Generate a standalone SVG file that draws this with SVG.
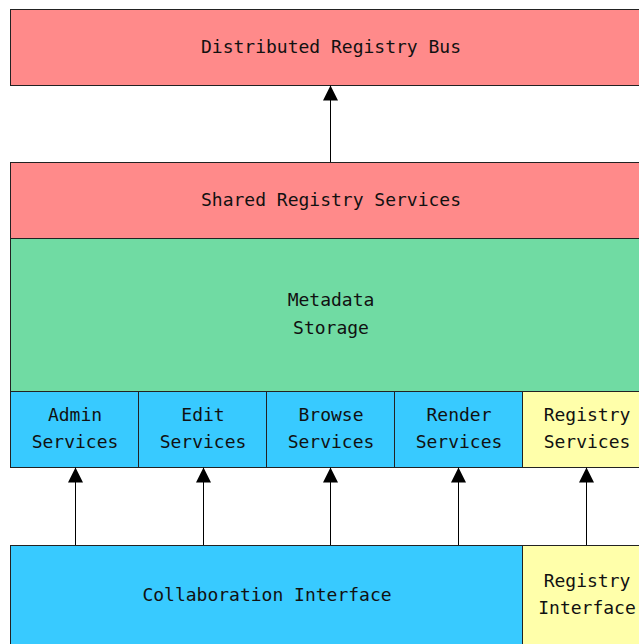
<svg xmlns="http://www.w3.org/2000/svg" width="639" height="644" viewBox="0 0 639 644">
<style>
rect{stroke:#222;stroke-width:1}
.red{fill:#FF8A8A}.green{fill:#70DBA3}.blue{fill:#38CAFF}.yellow{fill:#FFFFAA}
text{font-family:"DejaVu Sans Mono","Liberation Mono",monospace;font-size:18px;fill:#111;text-anchor:middle}
.conn line{stroke:#000;stroke-width:1;marker-end:url(#ah)}
</style>
<defs>
<marker id="ah" markerUnits="userSpaceOnUse" markerWidth="15" markerHeight="15" viewBox="0 0 15 15" refX="15" refY="7.5" orient="auto">
<path d="M0,0 L15,7.5 L0,15 z" fill="#000"/>
</marker>
</defs>
<rect width="639" height="644" fill="#fff" style="stroke:none"/>
<g id="bus"><rect class="red" x="10.5" y="9.5" width="640" height="76"/><text x="331" y="53">Distributed Registry Bus</text></g>
<g id="shared"><rect class="red" x="10.5" y="162.5" width="640" height="76"/><text x="331" y="206">Shared Registry Services</text></g>
<g id="metadata"><rect class="green" x="10.5" y="238.5" width="640" height="153"/><text x="331" y="306">Metadata</text><text x="331" y="334">Storage</text></g>
<g id="admin"><rect class="blue" x="10.5" y="391.5" width="128" height="76"/><text x="75" y="421">Admin</text><text x="75" y="448">Services</text></g>
<g id="edit"><rect class="blue" x="138.5" y="391.5" width="128" height="76"/><text x="203" y="421">Edit</text><text x="203" y="448">Services</text></g>
<g id="browse"><rect class="blue" x="266.5" y="391.5" width="128" height="76"/><text x="331" y="421">Browse</text><text x="331" y="448">Services</text></g>
<g id="render"><rect class="blue" x="394.5" y="391.5" width="128" height="76"/><text x="459" y="421">Render</text><text x="459" y="448">Services</text></g>
<g id="registry-services"><rect class="yellow" x="522.5" y="391.5" width="128" height="76"/><text x="587" y="421">Registry</text><text x="587" y="448">Services</text></g>
<g id="collab"><rect class="blue" x="10.5" y="545.5" width="512" height="110"/><text x="267" y="601">Collaboration Interface</text></g>
<g id="registry-interface"><rect class="yellow" x="522.5" y="545.5" width="128" height="110"/><text x="587" y="587">Registry</text><text x="587" y="614">Interface</text></g>
<g class="conn" id="connectors">
<line x1="330.5" y1="162" x2="330.5" y2="85.5"/>
<line x1="75.5" y1="545" x2="75.5" y2="467.5"/>
<line x1="203.5" y1="545" x2="203.5" y2="467.5"/>
<line x1="330.5" y1="545" x2="330.5" y2="467.5"/>
<line x1="458.5" y1="545" x2="458.5" y2="467.5"/>
<line x1="586.5" y1="545" x2="586.5" y2="467.5"/>
</g>
</svg>
